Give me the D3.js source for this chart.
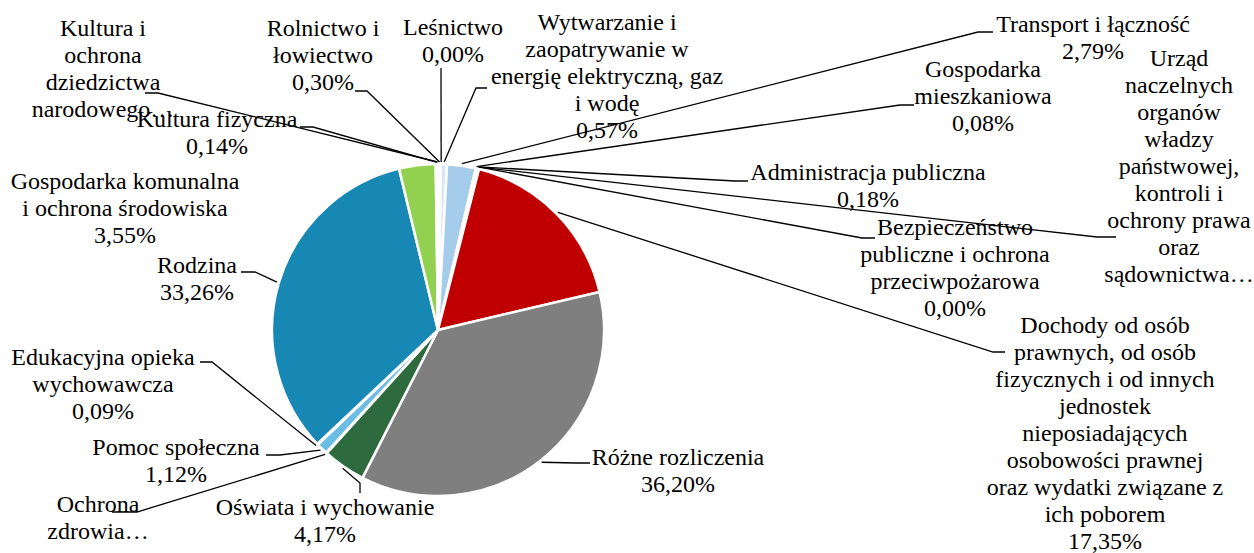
<!DOCTYPE html>
<html>
<head>
<meta charset="utf-8">
<script src="https://cdn.jsdelivr.net/npm/d3@7"></script>
<style>
  body { margin: 0; background: #fff; }
  svg { display: block; }
</style>
</head>
<body>
<svg id="chart" width="1254" height="553"></svg>
<script>
// categories in slice order, clockwise from 12 o'clock
const categories = [
  "Rolnictwo i łowiectwo", "Leśnictwo",
  "Wytwarzanie i zaopatrywanie w energię elektryczną, gaz i wodę",
  "Transport i łączność", "Gospodarka mieszkaniowa", "Administracja publiczna",
  "Urząd naczelnych organów władzy państwowej, kontroli i ochrony prawa oraz sądownictwa",
  "Bezpieczeństwo publiczne i ochrona przeciwpożarowa",
  "Dochody od osób prawnych, od osób fizycznych i od innych jednostek nieposiadających osobowości prawnej oraz wydatki związane z ich poborem",
  "Różne rozliczenia", "Oświata i wychowanie", "Ochrona zdrowia", "Pomoc społeczna",
  "Edukacyjna opieka wychowawcza", "Rodzina", "Gospodarka komunalna i ochrona środowiska",
  "Kultura fizyczna", "Kultura i ochrona dziedzictwa narodowego"
];
const values = [0.30, 0.00, 0.57, 2.79, 0.08, 0.18, 0.05, 0.00, 17.35, 36.20, 4.17, 0.07, 1.12, 0.09, 33.26, 3.55, 0.14, 0.08];
// label text lines as printed (null = percentage line)
const labelLines = [
  ["Rolnictwo i", "łowiectwo", null],
  ["Leśnictwo", null],
  ["Wytwarzanie i", "zaopatrywanie w", "energię elektryczną, gaz", "i wodę", null],
  ["Transport i łączność", null],
  ["Gospodarka", "mieszkaniowa", null],
  ["Administracja publiczna", null],
  ["Urząd", "naczelnych", "organów", "władzy", "państwowej,", "kontroli i", "ochrony prawa", "oraz", "sądownictwa…"],
  ["Bezpieczeństwo", "publiczne i ochrona", "przeciwpożarowa", null],
  ["Dochody od osób", "prawnych, od osób", "fizycznych i od innych", "jednostek", "nieposiadających", "osobowości prawnej", "oraz wydatki związane z", "ich poborem", null],
  ["Różne rozliczenia", null],
  ["Oświata i wychowanie", null],
  ["Ochrona", "zdrowia…"],
  ["Pomoc społeczna", null],
  ["Edukacyjna opieka", "wychowawcza", null],
  ["Rodzina", null],
  ["Gospodarka komunalna", "i ochrona środowiska", null],
  ["Kultura fizyczna", null],
  ["Kultura i", "ochrona", "dziedzictwa", "narodowego…"]
];
const colors = ["#eef3f8", "#ffffff", "#d6e6f4", "#a6cceb", "#f4b183", "#ffd966", "#c9c9c9", "#8faadc",
  "#c00000", "#7f7f7f", "#2d6a3e", "#b4c7e7", "#6cbde6", "#ffe699", "#1787b4", "#92d050", "#f2f2f2", "#dfe9f5"];

// layout: label centre x, first baseline y, leader stub points (leader ends on slice)
const layout = [
  {x: 323, y: 36, stub: [[355, 91], [367, 91]]},
  {x: 453, y: 35, stub: [[441, 68]]},
  {x: 607, y: 30, stub: [[487, 88], [476, 88]]},
  {x: 1093, y: 32, stub: [[993, 32], [978, 32]]},
  {x: 983, y: 77, stub: [[914, 105], [900, 105]]},
  {x: 868, y: 180, stub: [[748, 181], [735, 181]]},
  {x: 1179, y: 66, stub: [[1116, 237], [1097, 237]]},
  {x: 955, y: 235, stub: [[875, 238], [862, 238]]},
  {x: 1105, y: 333, stub: [[1005, 352], [993, 352]]},
  {x: 678, y: 465, stub: [[590, 463], [576, 463]]},
  {x: 325, y: 515, stub: [[360, 493], [360, 483]]},
  {x: 98, y: 512, stub: [[112, 512], [137, 512]]},
  {x: 176, y: 455, stub: [[266, 455], [280, 455]]},
  {x: 103, y: 365, stub: [[200, 362], [212, 362]]},
  {x: 197, y: 273, stub: [[241, 272], [255, 272]]},
  {x: 125, y: 189, stub: null},
  {x: 217, y: 127, stub: [[300, 127], [313, 127]]},
  {x: 103, y: 36, stub: [[145, 93], [158, 93]]}
];

const cx = 438, cy = 330, radius = 166, lineGap = 27;
const fmt = v => d3.format(".2f")(v).replace(".", ",") + "%";

const svg = d3.select("#chart");
const data = categories.map((c, i) => ({name: c, value: values[i], i}));

const pie = d3.pie().value(d => d.value).sort(null);
const arcs = pie(data);
const arc = d3.arc().innerRadius(0).outerRadius(radius);
const edge = d3.arc().innerRadius(radius + 2).outerRadius(radius + 2);

const g = svg.append("g").attr("transform", `translate(${cx},${cy})`);
g.selectAll("path")
  .data(arcs)
  .enter()
  .append("path")
  .attr("d", arc)
  .attr("fill", d => colors[d.data.i])
  .attr("stroke", "#fff")
  .attr("stroke-width", 2.5)
  .attr("stroke-linejoin", "round");

// leader lines
const line = d3.line();
svg.append("g")
  .selectAll("path")
  .data(arcs.filter(d => layout[d.data.i].stub))
  .enter()
  .append("path")
  .attr("d", d => {
    const [ex, ey] = edge.centroid(d);
    return line([...layout[d.data.i].stub, [ex + cx, ey + cy]]);
  })
  .attr("fill", "none")
  .attr("stroke", "#000")
  .attr("stroke-width", 1.3);

// labels
const labels = svg.append("g")
  .selectAll("text")
  .data(data)
  .enter()
  .append("text")
  .attr("font-family", "Liberation Serif")
  .attr("font-size", 24)
  .attr("fill", "#000")
  .attr("text-anchor", "middle")
  .attr("x", d => layout[d.i].x)
  .attr("y", d => layout[d.i].y);

labels.selectAll("tspan")
  .data(d => labelLines[d.i].map(t => t === null ? fmt(d.value) : t))
  .enter()
  .append("tspan")
  .attr("x", function() { return d3.select(this.parentNode).attr("x"); })
  .attr("dy", (t, j) => j === 0 ? 0 : lineGap)
  .text(t => t);
</script>
</body>
</html>
